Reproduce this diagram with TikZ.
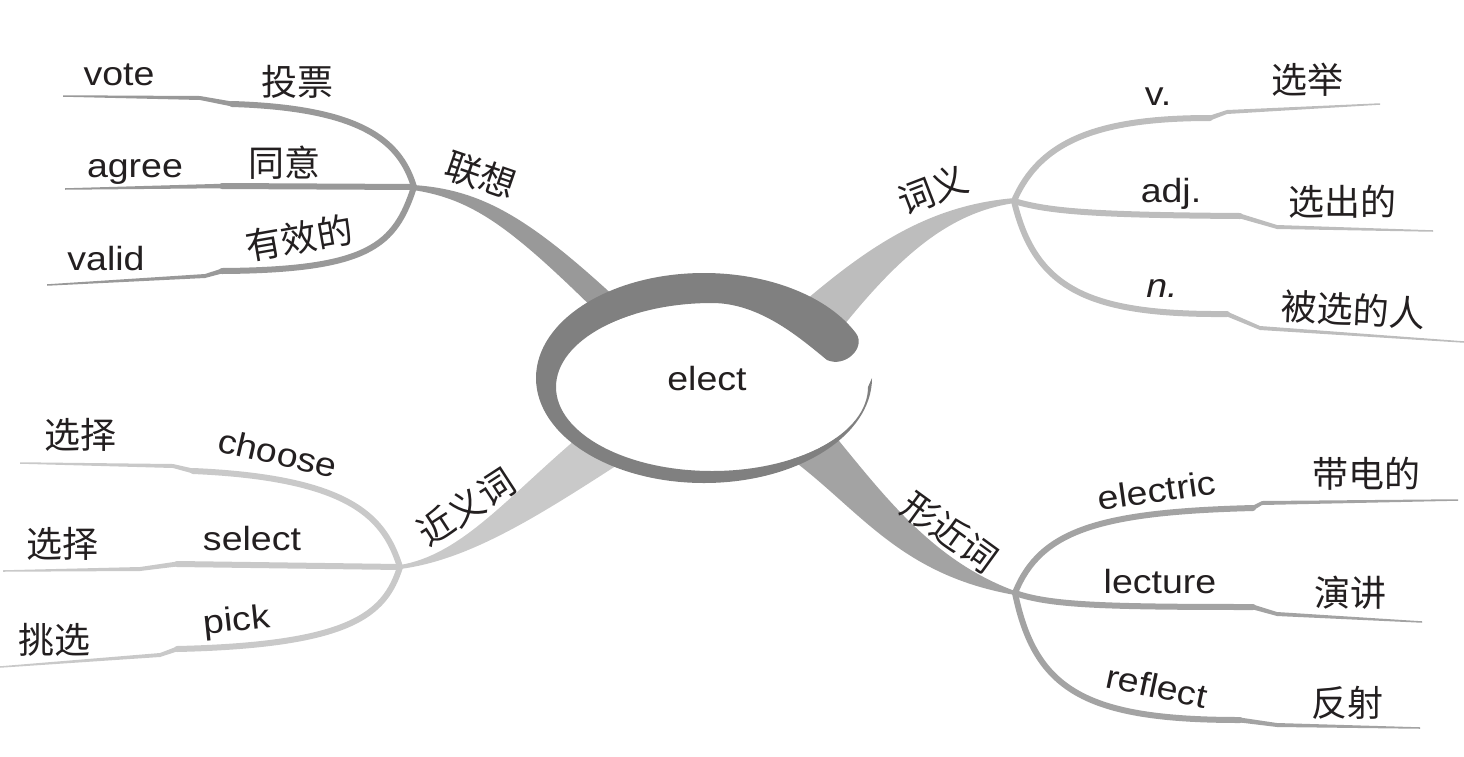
\documentclass[tikz,border=0pt]{standalone}
\usepackage{fontspec}
\newfontfamily\enfont{Liberation Sans}[FakeStretch=1.12]
\newfontfamily\cjkfont{Noto Sans CJK SC}
\definecolor{ringc}{HTML}{808080}
\definecolor{cA}{HTML}{999999}
\definecolor{cB}{HTML}{BDBDBD}
\definecolor{cC}{HTML}{C9C9C9}
\definecolor{cD}{HTML}{A3A3A3}
\definecolor{txt}{HTML}{231F20}
\newcommand\brtaper[7]{\fill[#1] ({#2},{#3-#6/2}) -- ({#4},{#5-#7/2}) -- ({#4},{#5+#7/2}) -- ({#2},{#3+#6/2}) -- cycle;}
\tikzset{
  en/.style={font=\enfont\fontsize{33.5}{40}\selectfont, text=txt, inner sep=0pt},
  enit/.style={font=\enfont\fontsize{33.5}{40}\selectfont\itshape, text=txt, inner sep=0pt},
  zh/.style={font=\cjkfont\fontsize{36}{40}\selectfont, text=txt, inner sep=0pt},
  bthick/.style={line width=6pt, line cap=round},
}
\begin{document}
\begin{tikzpicture}[x=1pt,y=-1pt]
\useasboundingbox (0,0) rectangle (1464,756);
% hubs
\coordinate (h1) at (414,187);
\coordinate (h2) at (1014,201);
\coordinate (h3) at (400,567);
\coordinate (h4) at (1015,593);
% main stems
\fill[cA] (413,185) .. controls (490,190) and (540,225) .. (650,330) -- (630,345) .. controls (520,235) and (480,200) .. (413,190) -- cycle;
\fill[cB] (1015,198) .. controls (930,205) and (870,245) .. (800,305) -- (840,330) .. controls (900,255) and (950,212) .. (1015,203) -- cycle;
\fill[cC] (400,565) .. controls (460,555) and (505,500) .. (575,440) -- (625,460) .. controls (540,515) and (470,560) .. (400,569) -- cycle;
\fill[cD] (790,458) .. controls (860,510) and (900,575) .. (1015,595) -- (1015,591) .. controls (930,560) and (880,490) .. (830,430) -- cycle;
% centre
\fill[white] (712,387) ellipse [x radius=156, y radius=84];
\fill[ringc] (704,378) ++(0:168 and 105) arc[start angle=0, end angle=335, x radius=168, y radius=105]
  .. controls (866,348) and (845,368) .. (827,360)
  .. controls (800,338) and (760,303) .. (712,303)
  arc[start angle=270, end angle=0, x radius=156, y radius=84] -- cycle;
\node[en, anchor=base] (center) at (707,390) {elect};
% --- 联想
\draw[cA, bthick] (h1) .. controls (400,140) and (360,108) .. (232,104);
\brtaper{cA}{232}{104}{200}{98}{5}{4}
\brtaper{cA}{200}{98}{63}{96}{4}{1.5}
\draw[cA, bthick] (h1) -- (222,186);
\brtaper{cA}{222}{186}{65}{189}{4.5}{1.5}
\draw[cA, bthick] (h1) .. controls (395,245) and (370,270) .. (222,271);
\brtaper{cA}{222}{271}{205}{276}{5}{4}
\brtaper{cA}{205}{276}{47}{285}{4}{1.5}
% --- 近义词
\draw[cC, bthick] (h3) .. controls (385,520) and (355,478) .. (193,471);
\brtaper{cC}{193}{471}{173}{466}{5}{4}
\brtaper{cC}{173}{466}{20}{463}{4}{1.5}
\draw[cC, bthick] (h3) -- (177,564);
\brtaper{cC}{177}{564}{140}{569}{5}{4}
\brtaper{cC}{140}{569}{3}{571}{4}{1.5}
\draw[cC, bthick] (h3) .. controls (385,615) and (350,645) .. (177,649);
\brtaper{cC}{177}{649}{160}{655}{5}{4}
\brtaper{cC}{160}{655}{0}{667}{4}{1.5}
% --- 词义
\draw[cB, bthick] (h2) .. controls (1040,140) and (1100,118) .. (1210,118);
\brtaper{cB}{1210}{118}{1227}{112}{5}{4}
\brtaper{cB}{1227}{112}{1380}{104}{4}{1.5}
\draw[cB, bthick] (h2) .. controls (1050,212) and (1100,215) .. (1240,216);
\brtaper{cB}{1240}{216}{1277}{227}{5}{4}
\brtaper{cB}{1277}{227}{1433}{231}{4}{1.5}
\draw[cB, bthick] (h2) .. controls (1035,290) and (1090,315) .. (1227,314);
\brtaper{cB}{1227}{314}{1260}{328}{5}{4}
\brtaper{cB}{1260}{328}{1464}{342}{4}{1.5}
% --- 形近词
\draw[cD, bthick] (h4) .. controls (1040,530) and (1100,512) .. (1253,508);
\brtaper{cD}{1253}{508}{1262}{503}{5}{4}
\brtaper{cD}{1262}{503}{1458}{500}{4}{1.5}
\draw[cD, bthick] (h4) .. controls (1050,605) and (1100,607) .. (1253,607);
\brtaper{cD}{1253}{607}{1277}{614}{5}{4}
\brtaper{cD}{1277}{614}{1422}{622}{4}{1.5}
\draw[cD, bthick] (h4) .. controls (1035,690) and (1085,720) .. (1240,720);
\brtaper{cD}{1240}{720}{1277}{725}{5}{4}
\brtaper{cD}{1277}{725}{1420}{728}{4}{1.5}
% labels 联想
\node[zh, rotate=-19] (l1) at (481,175) {联想};
\node[en, anchor=base] (w-vote) at (119,85) {vote};
\node[zh] (z-vote) at (297,82) {投票};
\node[en, anchor=base] (w-agree) at (135,177) {agree};
\node[zh] (z-agree) at (284,163) {同意};
\node[en, anchor=base] (w-valid) at (106,270) {valid};
\node[zh, rotate=10] (z-valid) at (299,238) {有效的};
% labels 近义词
\node[zh, rotate=33] (l3) at (466,507) {近义词};
\node[zh] (z-choose) at (80,435) {选择};
\node[en, rotate=-13] (w-choose) at (278,453) {choose};
\node[zh] (z-select) at (63,544) {选择};
\node[en, anchor=base] (w-select) at (252,550) {select};
\node[zh] (z-pick) at (55,640) {挑选};
\node[en, rotate=6] (w-pick) at (237,622) {pick};
% labels 词义
\node[zh, rotate=21] (l2) at (933,190) {词义};
\node[en, anchor=base] (w-v) at (1158,105) {v.};
\node[zh] (z-v) at (1307,80) {选举};
\node[en, anchor=base] (w-adj) at (1171,202) {adj.};
\node[zh] (z-adj) at (1342,202) {选出的};
\node[enit, anchor=base] (w-n) at (1162,297) {n.};
\node[zh, rotate=-3] (z-n) at (1353,310) {被选的人};
% labels 形近词
\node[zh, rotate=-36] (l4) at (950,532) {形近词};
\node[en, rotate=8] (w-electric) at (1157,490) {electric};
\node[zh] (z-electric) at (1366,474) {带电的};
\node[en, anchor=base] (w-lecture) at (1160,593) {lecture};
\node[zh] (z-lecture) at (1350,593) {演讲};
\node[en, rotate=-12] (w-reflect) at (1157,686) {ref\kern0pt lect};
\node[zh] (z-reflect) at (1347,703) {反射};
\end{tikzpicture}
\end{document}
